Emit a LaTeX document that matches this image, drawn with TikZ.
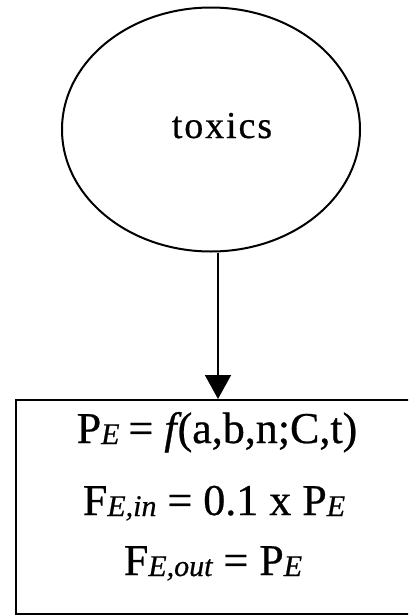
\documentclass[tikz,border=0pt]{standalone}
\usepackage{fontspec}
\setmainfont{Liberation Serif}[FakeBold=0.6]
\usetikzlibrary{arrows.meta,shapes.geometric}
\newcommand{\sbx}[1]{\raisebox{-1pt}{\fontsize{30}{30}\selectfont\itshape #1}}
\tikzset{
  eq/.style={anchor=base, inner sep=0pt, font=\fontsize{44}{44}\selectfont},
  oval/.style={draw, line width=2pt, ellipse, minimum width=298pt, minimum height=244pt, inner sep=0pt},
  flow/.style={draw, line width=1.6pt, -{Triangle[width=26pt,length=24pt]}},
  boxline/.style={draw, line width=2.4pt}
}
\begin{document}
\begin{tikzpicture}[x=1pt,y=-1pt]
\useasboundingbox (0,0) rectangle (408,616);
\clip (0,0) rectangle (408,616);
\node[oval] (e) at (211,129.5) {};
\node[anchor=base, inner sep=0pt, font=\fontsize{38}{38}\selectfont\addfontfeature{LetterSpace=5}] (t) at (222,138) {toxics};
\node[boxline, anchor=north west, minimum width=420pt, minimum height=214pt, inner sep=0pt] (b) at (15,399) {};
\coordinate (a) at (218,399);
\draw[flow] (e.south -| a) -- (a);
\node[eq] (l1) at (217,443) {P\sbx{E}\kern-2pt{} = \textit{f}\kern-4pt(a,b,n;C,t)};
\node[eq] (l2) at (214,515) {F\sbx{E,in} = 0.1 x P\sbx{E}};
\node[eq] (l3) at (213,575) {F\sbx{E,out} = P\sbx{E}};
\end{tikzpicture}
\end{document}
